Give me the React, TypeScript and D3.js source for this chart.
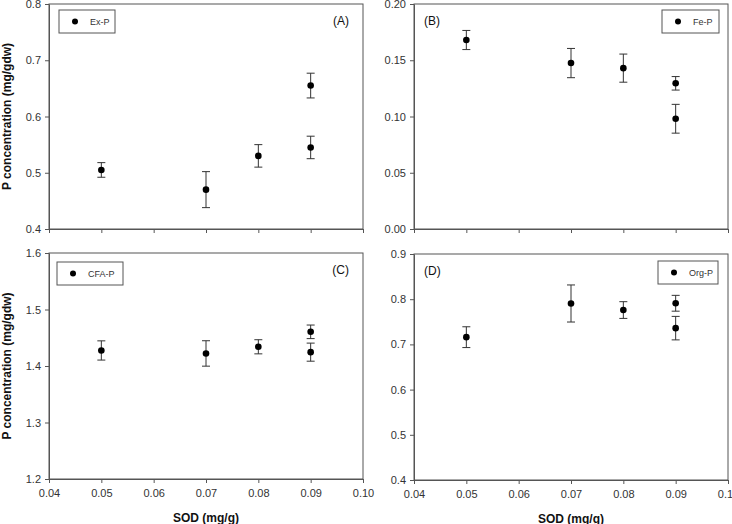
import React, { useEffect, useRef } from 'react';
import * as d3 from 'd3';

// SOD levels (mg/g), two samples at 0.09
const sod = [0.05, 0.07, 0.08, 0.09, 0.09];

const exP = [0.505, 0.47, 0.53, 0.655, 0.545];
const exPErr = [0.013, 0.032, 0.02, 0.022, 0.02];

const feP = [0.168, 0.1475, 0.143, 0.1295, 0.098];
const fePErr = [0.0085, 0.013, 0.0125, 0.006, 0.0128];

const cfaP = [1.4275, 1.4222, 1.434, 1.4605, 1.4245];
const cfaPErr = [0.017, 0.0225, 0.0125, 0.012, 0.016];

const orgP = [0.716, 0.7905, 0.776, 0.791, 0.736];
const orgPErr = [0.023, 0.041, 0.0185, 0.0175, 0.026];

const xTicks = [0.04, 0.05, 0.06, 0.07, 0.08, 0.09, 0.1];
const yTicksA = [0.4, 0.5, 0.6, 0.7, 0.8];
const yTicksB = [0, 0.05, 0.1, 0.15, 0.2];
const yTicksC = [1.2, 1.3, 1.4, 1.5, 1.6];
const yTicksD = [0.4, 0.5, 0.6, 0.7, 0.8, 0.9];

const FONT = "Arial, 'Liberation Sans', sans-serif";
const AXIS = '#555';
const TEXT = '#333';

export default function App() {
  const ref = useRef<SVGSVGElement>(null);

  useEffect(() => {
    if (!ref.current) return;
    const root = d3.select(ref.current);
    root.selectAll('*').remove();

    const panels = [
      { box: [49, 4, 363, 229], vals: exP, err: exPErr, yTicks: yTicksA, fmt: '.1f', name: 'Ex-P',
        tag: '(A)', tagRight: true, legend: [59, 10, 56, 23], xLabels: false, yTitle: true },
      { box: [414, 4, 728, 229], vals: feP, err: fePErr, yTicks: yTicksB, fmt: '.2f', name: 'Fe-P',
        tag: '(B)', tagRight: false, legend: [662, 10, 57, 23], xLabels: false, yTitle: false },
      { box: [49, 253, 363, 479], vals: cfaP, err: cfaPErr, yTicks: yTicksC, fmt: '.1f', name: 'CFA-P',
        tag: '(C)', tagRight: true, legend: [57, 262, 66, 23], xLabels: true, yTitle: true },
      { box: [414, 254, 728, 480], vals: orgP, err: orgPErr, yTicks: yTicksD, fmt: '.1f', name: 'Org-P',
        tag: '(D)', tagRight: false, legend: [658, 261, 60, 23], xLabels: true, yTitle: false },
    ];

    panels.forEach(p => {
      const [x0, y0, x1, y1] = p.box;
      const x = d3.scaleLinear().domain([0.04, 0.1]).range([x0, x1]);
      const yDom = d3.extent(p.yTicks) as [number, number];
      const y = d3.scaleLinear().domain(yDom).range([y1, y0]);
      const g = root.append('g');

      // frame
      g.append('rect')
        .attr('x', x0).attr('y', y0)
        .attr('width', x1 - x0).attr('height', y1 - y0)
        .attr('fill', 'none').attr('stroke', AXIS).attr('stroke-width', 1);

      // axes
      const xAxis = g.append('g')
        .attr('transform', `translate(0,${y1})`)
        .call(d3.axisBottom(x).tickValues(xTicks).tickSize(4).tickPadding(6)
          .tickSizeOuter(0)
          .tickFormat(p.xLabels ? (d => d3.format('.2f')(d as number)) : () => ''));
      const yAxis = g.append('g')
        .attr('transform', `translate(${x0},0)`)
        .call(d3.axisLeft(y).tickValues(p.yTicks).tickSize(4).tickPadding(4)
          .tickSizeOuter(0)
          .tickFormat(d => d3.format(p.fmt)(d as number)));
      [xAxis, yAxis].forEach(a => {
        a.select('.domain').attr('stroke', AXIS);
        a.selectAll('line').attr('stroke', AXIS);
        a.selectAll('text').attr('fill', TEXT).attr('font-size', 11).attr('font-family', FONT);
      });

      // error bars
      const cap = 4;
      sod.forEach((s, i) => {
        const cx = x(s);
        const top = y(p.vals[i] + p.err[i]);
        const bot = y(p.vals[i] - p.err[i]);
        g.append('line').attr('x1', cx).attr('x2', cx).attr('y1', top).attr('y2', bot)
          .attr('stroke', TEXT).attr('stroke-width', 1);
        [top, bot].forEach(yy => g.append('line')
          .attr('x1', cx - cap).attr('x2', cx + cap).attr('y1', yy).attr('y2', yy)
          .attr('stroke', TEXT).attr('stroke-width', 1));
      });

      // points
      g.selectAll('circle.pt')
        .data(sod.map((s, i) => [s, p.vals[i]]))
        .enter()
        .append('circle')
        .attr('class', 'pt')
        .attr('cx', d => x(d[0]))
        .attr('cy', d => y(d[1]))
        .attr('r', 3.3)
        .attr('fill', '#000');

      // legend
      const [lx, ly, lw, lh] = p.legend;
      g.append('rect').attr('x', lx).attr('y', ly).attr('width', lw).attr('height', lh)
        .attr('fill', '#fff').attr('stroke', AXIS).attr('stroke-width', 1);
      g.append('circle').attr('cx', lx + 16).attr('cy', ly + lh / 2).attr('r', 3).attr('fill', '#000');
      g.append('text').attr('x', lx + 31).attr('y', ly + lh / 2 + 3.2)
        .attr('font-size', 9).attr('font-family', FONT).attr('fill', TEXT).text(p.name);

      // panel tag
      g.append('text')
        .attr('x', p.tagRight ? x1 - 14 : x0 + 10)
        .attr('y', y0 + 21)
        .attr('text-anchor', p.tagRight ? 'end' : 'start')
        .attr('font-size', 12).attr('font-family', FONT).attr('fill', '#111')
        .text(p.tag);

      // titles
      if (p.yTitle) {
        g.append('text')
          .attr('transform', `translate(11,${(y0 + y1) / 2}) rotate(-90)`)
          .attr('text-anchor', 'middle')
          .attr('font-size', 12).attr('font-weight', 'bold').attr('font-family', FONT).attr('fill', '#111')
          .text('P concentration (mg/gdw)');
      }
      if (p.xLabels) {
        g.append('text')
          .attr('x', (x0 + x1) / 2).attr('y', y1 + 43)
          .attr('text-anchor', 'middle')
          .attr('font-size', 12).attr('font-weight', 'bold').attr('font-family', FONT).attr('fill', '#111')
          .text('SOD (mg/g)');
      }
    });
  }, []);

  return (
    <svg ref={ref} width={732} height={524}
      style={{ position: 'absolute', left: 0, top: 0, background: '#fff' }} />
  );
}
